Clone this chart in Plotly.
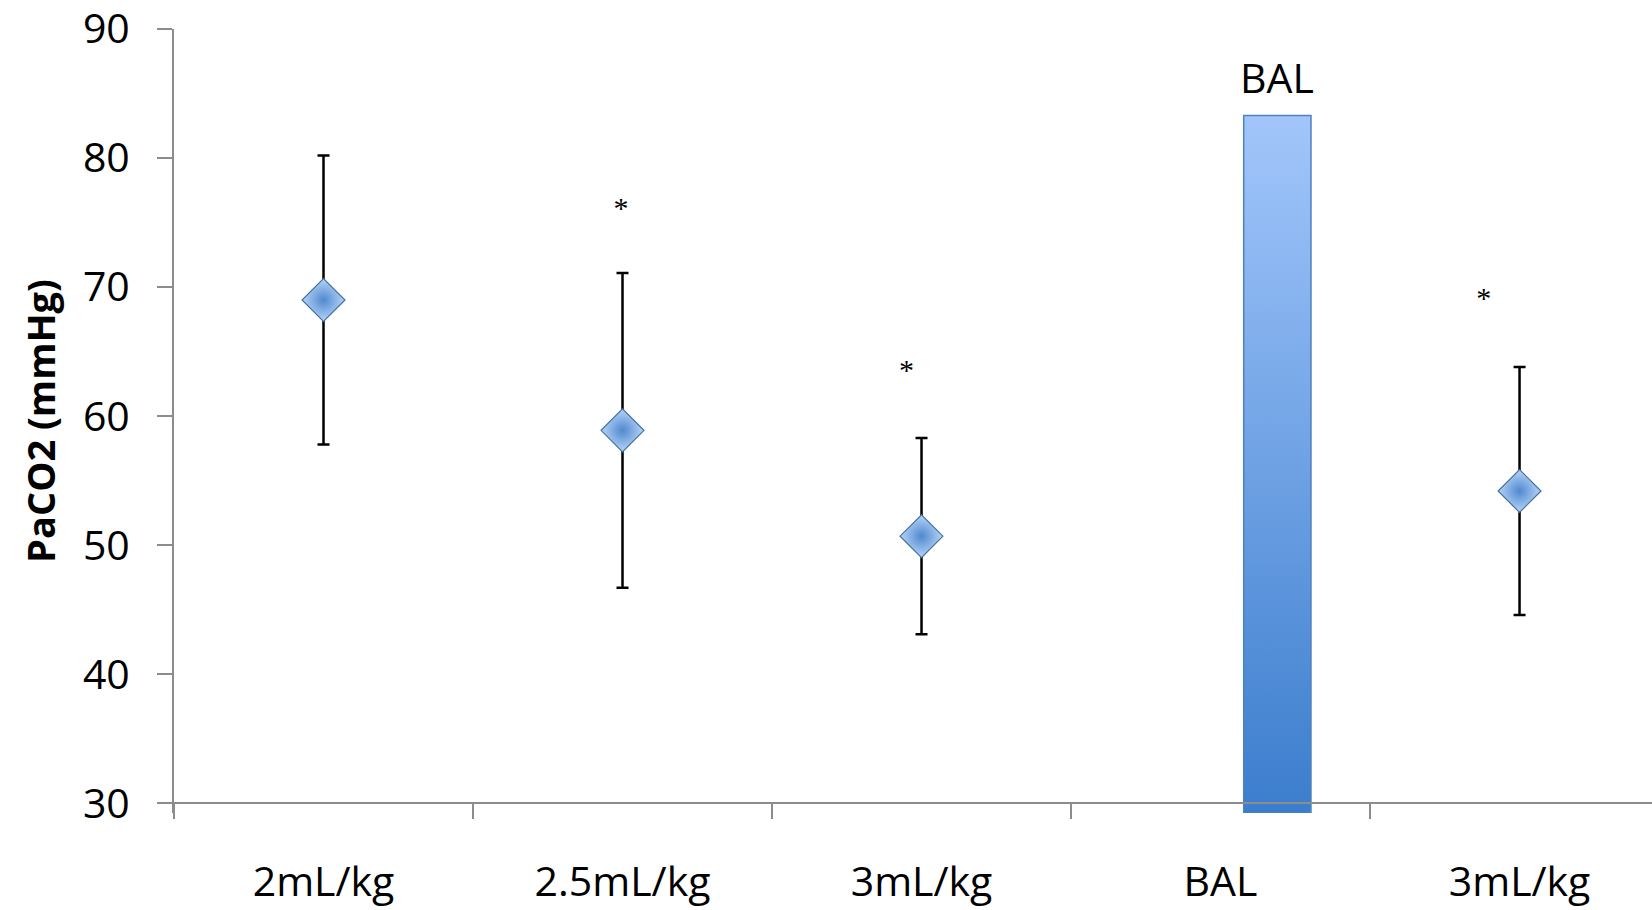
import plotly.graph_objects as go

# Ventilation steps along the x axis
categories = ["2mL/kg", "2.5mL/kg", "3mL/kg", "BAL", "3mL/kg"]

# Mean PaCO2 (mmHg) and SD at each measured step (no measurement at the BAL step)
point_pos = [0, 1, 2, 4]
paco2_mean = [69.0, 58.9, 50.7, 54.2]
paco2_sd = [11.2, 12.2, 7.6, 9.6]

# Significance marks
sig_pos = [0.995, 1.95, 3.88]
sig_y = [75.9, 63.4, 69.0]
sig_text = ["*", "*", "*"]

# Bronchoalveolar lavage band
bal_pos = 3.19
bal_width = 0.225
bal_top = 83.3
bal_label = "BAL"

y_ticks = [30, 40, 50, 60, 70, 80, 90]
y_min, y_max = 29.25, 90
x_min, x_max = -0.5, 4.443

AXIS_GREY = "#8C8C8C"
FONT = "Open Sans"

fig = go.Figure()

# BAL band with a vertical colour gradient
bx0, bx1 = bal_pos - bal_width / 2, bal_pos + bal_width / 2
fig.add_trace(go.Scatter(
    x=[bx0, bx1, bx1, bx0, bx0],
    y=[y_min, y_min, bal_top, bal_top, y_min],
    mode="lines",
    fill="toself",
    fillgradient=dict(
        type="vertical",
        colorscale=[[0, "#3B7DCD"], [1, "#A2C6FB"]],
        start=y_min,
        stop=bal_top,
    ),
    line=dict(color="#4F81BD", width=1.5),
    hoverinfo="skip",
    showlegend=False,
))

# Means with SD error bars
fig.add_trace(go.Scatter(
    x=point_pos,
    y=paco2_mean,
    mode="markers",
    marker=dict(
        symbol="diamond",
        size=33,
        color="#B6D5F8",
        gradient=dict(type="radial", color="#5189CF"),
        line=dict(color="#45709F", width=1.2),
    ),
    error_y=dict(type="data", array=paco2_sd, color="black", thickness=2.5, width=6),
    showlegend=False,
))

# Asterisks
fig.add_trace(go.Scatter(
    x=sig_pos,
    y=sig_y,
    mode="text",
    text=sig_text,
    textposition="middle center",
    textfont=dict(family="Liberation Serif", size=30, color="black"),
    showlegend=False,
    hoverinfo="skip",
))

fig.add_annotation(
    x=bal_pos, y=bal_top, text=bal_label,
    showarrow=False, xanchor="center", yanchor="bottom", yshift=8,
    font=dict(family=FONT, size=41, color="black"),
)

fig.update_layout(
    width=1652,
    height=910,
    margin=dict(l=174, r=0, t=29, b=97),
    paper_bgcolor="white",
    plot_bgcolor="white",
    xaxis=dict(
        range=[x_min, x_max],
        tickvals=list(range(len(categories))),
        ticktext=categories,
        ticks="",
        showline=True,
        linecolor=AXIS_GREY,
        linewidth=2,
        showgrid=False,
        zeroline=False,
        anchor="free",
        position=(y_ticks[0] - y_min) / (y_max - y_min),
        minor=dict(
            tickvals=[i - 0.5 for i in range(len(categories) + 1)],
            ticks="outside",
            ticklen=15,
            tickwidth=2,
            tickcolor=AXIS_GREY,
            showgrid=False,
        ),
        tickfont=dict(family=FONT, size=41, color="black"),
        ticklabelstandoff=42,
        ticklabeloverflow="allow",
    ),
    yaxis=dict(
        range=[y_min, y_max],
        tickvals=y_ticks,
        ticks="outside",
        ticklen=15,
        tickwidth=2,
        tickcolor=AXIS_GREY,
        showline=True,
        linecolor=AXIS_GREY,
        linewidth=2,
        showgrid=False,
        zeroline=False,
        tickfont=dict(family=FONT, size=41, color="black"),
        ticklabelstandoff=19,
        ticklabeloverflow="allow",
        title=dict(
            text="PaCO2 (mmHg)",
            font=dict(family=FONT, size=38, color="black", weight="bold"),
            standoff=16,
        ),
    ),
)

fig.write_html("out.html")
